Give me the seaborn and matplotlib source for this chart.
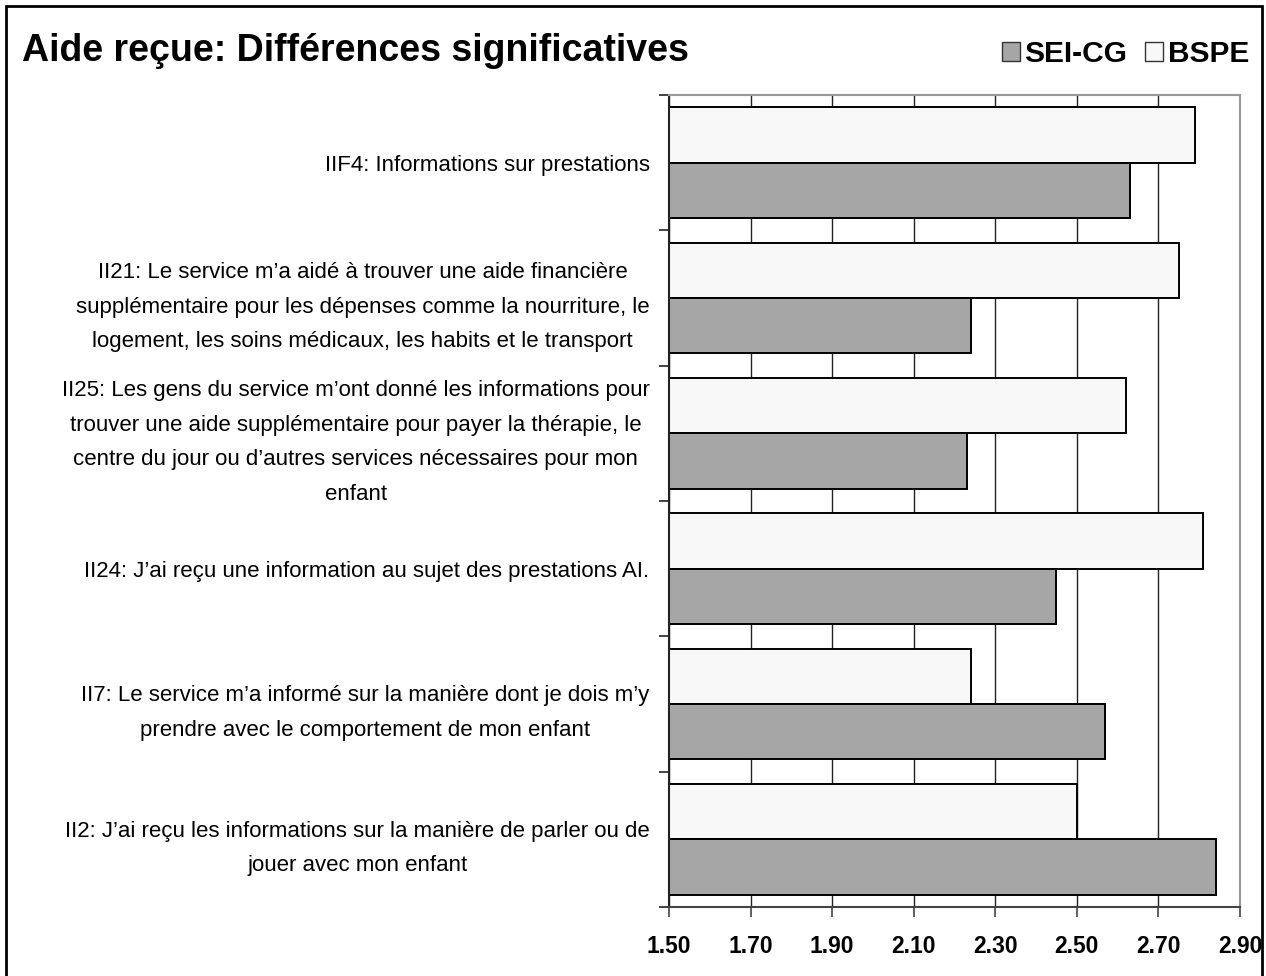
import numpy as np
import pandas as pd
import matplotlib
matplotlib.use("Agg")
import matplotlib.pyplot as plt
from matplotlib.patches import Rectangle
import seaborn as sns

# values
items = [
    "IIF4: Informations sur prestations",
    "II21: Le service m’a aidé à trouver une aide financière\nsupplémentaire pour les dépenses comme la nourriture, le\nlogement, les soins médicaux, les habits et le transport",
    "II25: Les gens du service m’ont donné les informations pour\ntrouver une aide supplémentaire pour payer la thérapie, le\ncentre du jour ou d’autres services nécessaires pour mon\nenfant",
    "II24: J’ai reçu une information au sujet des prestations AI.",
    "II7: Le service m’a informé sur la manière dont je dois m’y\nprendre avec le comportement de mon enfant",
    "II2: J’ai reçu les informations sur la manière de parler ou de\njouer avec mon enfant",
]
bspe = [2.79, 2.75, 2.62, 2.81, 2.24, 2.50]
sei_cg = [2.63, 2.24, 2.23, 2.45, 2.57, 2.84]
groups = ["BSPE", "SEI-CG"]
x_ticks = [1.50, 1.70, 1.90, 2.10, 2.30, 2.50, 2.70, 2.90]

df = pd.DataFrame({
    "item": items * 2,
    "score": bspe + sei_cg,
    "groupe": ["BSPE"] * len(items) + ["SEI-CG"] * len(items),
})

sns.set_style("white")
plt.rcParams["font.family"] = ["Liberation Sans", "DejaVu Sans"]
plt.rcParams["text.color"] = "black"
plt.rcParams["xtick.color"] = "black"
plt.rcParams["ytick.color"] = "black"

fig = plt.figure(figsize=(12.66, 9.76), dpi=100)
ax = fig.add_axes([669 / 1266, 1 - 907 / 976, (1240 - 669) / 1266, (907 - 95) / 976])

colors = {"SEI-CG": "#a6a6a6", "BSPE": "#f8f8f8"}
sns.barplot(data=df, y="item", x="score", hue="groupe", hue_order=groups,
            palette=colors, orient="h", width=0.82, edgecolor="black",
            linewidth=1.4, saturation=1, ax=ax)

ax.set_xlim(1.5, 2.9)
ax.set_ylim(5.5, -0.5)
ax.set_xticks(x_ticks)
ax.set_xticklabels([f"{t:.2f}" for t in x_ticks], fontsize=16.5, fontweight="bold")
ax.set_xlabel("")
ax.set_ylabel("")
ax.xaxis.grid(True, color="#222222", linewidth=1)
ax.set_axisbelow(True)

# y labels centred on each group, ticks at the group boundaries
ax.set_yticks(range(len(items)))
ax.set_yticklabels(items, fontsize=16, multialignment="center", linespacing=1.85)
ax.set_yticks(np.arange(-0.5, len(items), 1), minor=True)
ax.tick_params(axis="y", which="major", length=0, pad=14)
ax.tick_params(axis="y", which="minor", length=7, width=1.2, color="#222222", left=True)
ax.tick_params(axis="x", which="major", length=7, width=1.2, color="#444444", bottom=True, pad=13)

for side in ["top", "right"]:
    ax.spines[side].set_color("#999999")
    ax.spines[side].set_linewidth(1.5)
ax.spines["left"].set_color("#222222")
ax.spines["left"].set_linewidth(1.5)
ax.spines["bottom"].set_color("#444444")
ax.spines["bottom"].set_linewidth(1.5)

handles, labels = ax.get_legend_handles_labels()
ax.get_legend().remove()
order = [labels.index("SEI-CG"), labels.index("BSPE")]
leg = fig.legend([handles[i] for i in order], [labels[i] for i in order],
                 loc="center right", bbox_to_anchor=(0.996, 0.945), ncol=2, frameon=False,
                 prop={"weight": "bold", "size": 21.5}, handlelength=0.6, handleheight=0.6,
                 columnspacing=0.6, handletextpad=0.15, borderaxespad=0)
for h in leg.legend_handles:
    h.set_linewidth(1)
    h.set_edgecolor("#333333")

fig.text(22 / 1266, 0.948, "Aide reçue: Différences significatives",
         fontsize=27, fontweight="bold", va="center", ha="left")

fig.patches.append(Rectangle((6 / 1266, -0.02), (1262 - 6) / 1266, 1 - 6 / 976 + 0.02,
                             transform=fig.transFigure, fill=False,
                             edgecolor="black", linewidth=2))

plt.savefig("out.png", dpi=100)
